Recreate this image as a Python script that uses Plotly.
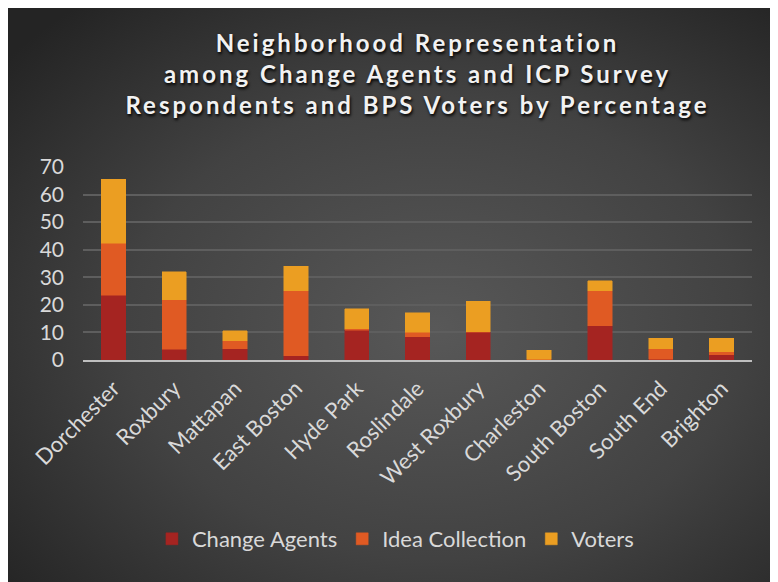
import base64
import plotly.graph_objects as go

neighborhoods = ["Dorchester", "Roxbury", "Mattapan", "East Boston", "Hyde Park",
                 "Roslindale", "West Roxbury", "Charleston", "South Boston",
                 "South End", "Brighton"]
change_agents = [23.4, 3.9, 4.0, 1.6, 10.8, 8.5, 10.0, 0.1, 12.5, 0.3, 1.9]
idea_collection = [19.0, 17.9, 2.9, 23.6, 0.5, 1.5, 0.2, 0.2, 12.7, 3.7, 1.1]
voters = [23.2, 10.3, 3.8, 8.8, 7.2, 7.2, 11.1, 3.3, 3.6, 3.9, 4.9]

W, H = 778, 582
# page body adds an 8px offset, so margins are shifted to compensate
ML, MR, MT, MB = 75, 34, 159, 230

# dark radial background, like the Excel chart style
svg = f"""<svg xmlns='http://www.w3.org/2000/svg' width='{W}' height='{H}'>
<defs><radialGradient id='g' cx='55%' cy='55%' r='72%'>
<stop offset='0' stop-color='#585858'/><stop offset='0.55' stop-color='#424242'/>
<stop offset='1' stop-color='#242424'/></radialGradient></defs>
<rect width='100%' height='100%' fill='url(#g)'/></svg>"""
bg = "data:image/svg+xml;base64," + base64.b64encode(svg.encode()).decode()

pw, ph = W - ML - MR, H - MT - MB
font = "Lato, Open Sans, sans-serif"

fig = go.Figure()
for name, vals, col in [("Change Agents", change_agents, "#a52421"),
                        ("Idea Collection", idea_collection, "#e05a23"),
                        ("Voters", voters, "#eb9e22")]:
    fig.add_trace(go.Bar(x=neighborhoods, y=vals, name=name,
                         marker=dict(color=col, line=dict(color=col, width=0.5))))

fig.update_layout(
    width=W, height=H,
    barmode="stack", bargap=0.6,
    paper_bgcolor="#333333", plot_bgcolor="rgba(0,0,0,0)",
    margin=dict(l=ML, r=MR, t=MT, b=MB),
    font=dict(family=font, color="#d9d9d9"),
    title=dict(
        text="<span style='letter-spacing:3px'>Neighborhood Representation<br>"
             "among Change Agents and ICP Survey<br>"
             "Respondents and BPS Voters by Percentage</span>",
        x=0.5, xref="paper", xanchor="center",
        y=1 - 44 / H, yref="container", yanchor="top",
        font=dict(family=font, size=24, color="#f2f2f2", weight="bold",
                  shadow="1px 2px 3px #000000"),
    ),
    xaxis=dict(tickangle=-45, tickfont=dict(size=22, color="#d9d9d9"),
               showline=True, linecolor="#bfbfbf", linewidth=2, ticks="",
               ticklabelstandoff=5),
    yaxis=dict(range=[0, 70], dtick=10, tickfont=dict(size=21, color="#d9d9d9"),
               gridcolor="#5e5e5e", gridwidth=2, zeroline=False, ticks="",
               ticklabelstandoff=18),
    legend=dict(orientation="h", traceorder="normal", x=0.467, xanchor="center",
                y=(MB - (H - 531)) / -ph, yanchor="middle",
                font=dict(size=22, color="#d9d9d9"), bgcolor="rgba(0,0,0,0)"),
    images=[dict(source=bg, xref="paper", yref="paper",
                 x=-ML / pw, y=(H - MB) / ph,
                 sizex=W / pw, sizey=H / ph,
                 sizing="stretch", xanchor="left", yanchor="top", layer="below")],
)

fig.write_html("out.html")
